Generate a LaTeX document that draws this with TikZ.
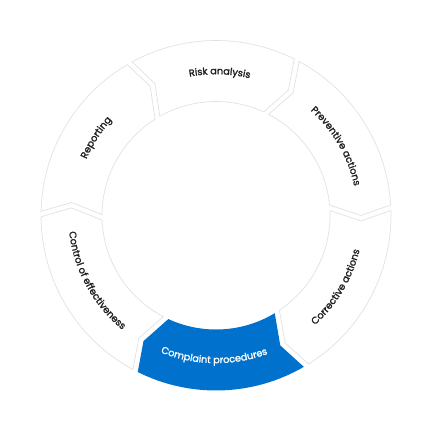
\documentclass[tikz,border=0pt]{standalone}
\usepackage{fontspec}
\setmainfont{Poppins}[FakeBold=1.6]
\usetikzlibrary{decorations.text}
\definecolor{ringline}{RGB}{226,226,226}
\definecolor{brandblue}{RGB}{0,114,206}
\definecolor{labeltext}{RGB}{30,30,30}
\newcommand\labfont{\fontsize{9.7}{11}\selectfont}
% #1 start (ccw) boundary angle, #2 end (cw) boundary angle, #3 style
\newcommand\ringseg[3]{%
  \pgfmathsetmacro\segOA{#1+asin(5/175)}%
  \pgfmathsetmacro\segIA{#1+asin(5/114)}%
  \pgfmathsetmacro\segNA{#1-asin(5.5/145)}%
  \pgfmathsetmacro\segOB{#2+asin(10.5/175)}%
  \pgfmathsetmacro\segIB{#2+asin(10.5/114)}%
  \path[#3] (\segOA:175) arc[start angle=\segOA, end angle=\segOB, radius=175]
    -- (#2:145) -- (\segIB:114) arc[start angle=\segIB, end angle=\segIA, radius=114]
    -- (\segNA:145) -- cycle;
}
% labels along the arc: clockwise (tops outward) and counter-clockwise (tops inward)
\newcommand\cwlabel[3]{%
  \pgfmathsetmacro\labS{#1+30}\pgfmathsetmacro\labE{#1-30}%
  \path[decorate, decoration={text along path, text align=center,
    text={|\labfont\color{#2}|#3}}]
    (\labS:141.3) arc[start angle=\labS, end angle=\labE, radius=141.3];
}
\newcommand\ccwlabel[3]{%
  \pgfmathsetmacro\labS{#1-30}\pgfmathsetmacro\labE{#1+30}%
  \path[decorate, decoration={text along path, text align=center,
    text={|\labfont\color{#2}|#3}}]
    (\labS:147.7) arc[start angle=\labS, end angle=\labE, radius=147.7];
}
\tikzset{
  whiteseg/.style={fill=white, draw=ringline, line width=0.7pt, line join=miter},
  blueseg/.style={fill=brandblue}
}
\begin{document}
\begin{tikzpicture}[x=1pt, y=1pt]
  \fill[white] (-216,-216.5) rectangle (216,215.5);
  \useasboundingbox (-216,-216.5) rectangle (216,215.5);
  % segments (clockwise order)
  \ringseg{117}{60}{whiteseg}      % Risk analysis
  \ringseg{60}{0}{whiteseg}        % Preventive actions
  \ringseg{0}{-61.5}{whiteseg}     % Corrective actions
  \ringseg{-61.5}{-120}{blueseg}   % Complaint procedures
  \ringseg{-120}{-183}{whiteseg}   % Control of effectiveness
  \ringseg{177}{117}{whiteseg}     % Reporting
  % labels
  \cwlabel{88.5}{labeltext}{Risk analysis}
  \cwlabel{30}{labeltext}{Preventive actions}
  \ccwlabel{-30.75}{labeltext}{Corrective actions}
  \ccwlabel{-90.75}{white}{Complaint procedures}
  \ccwlabel{208.5}{labeltext}{Control of effectiveness}
  \cwlabel{147}{labeltext}{Reporting}
\end{tikzpicture}
\end{document}
